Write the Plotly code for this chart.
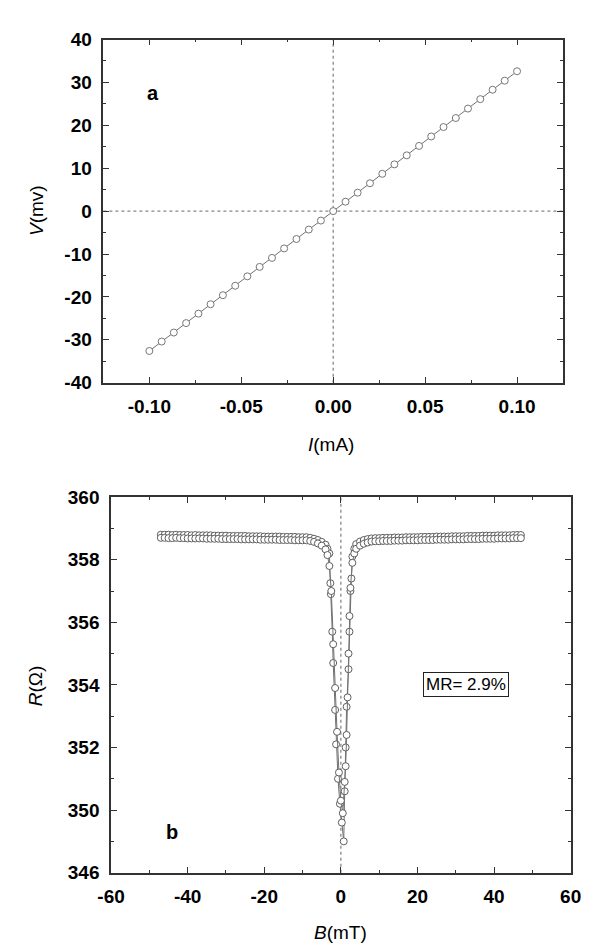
import plotly.graph_objects as go

# ---------------- data: panel a (I-V) ----------------
I_mA = [-0.1, -0.0933, -0.0867, -0.08, -0.0733, -0.0667, -0.06, -0.0533, -0.0467, -0.04,
        -0.0333, -0.0267, -0.02, -0.0133, -0.0067, 0.0, 0.0067, 0.0133, 0.02, 0.0267,
        0.0333, 0.04, 0.0467, 0.0533, 0.06, 0.0667, 0.0733, 0.08, 0.0867, 0.0933, 0.1]
V_mV = [-32.6, -30.4, -28.3, -26.1, -23.9, -21.7, -19.6, -17.4, -15.2, -13.0,
        -10.9, -8.7, -6.5, -4.3, -2.2, 0.0, 2.2, 4.3, 6.5, 8.7,
        10.9, 13.0, 15.2, 17.4, 19.6, 21.7, 23.9, 26.1, 28.3, 30.4, 32.6]

# ---------------- data: panel b (R-B), two sweeps ----------------
B_sweep1 = [-47, -46, -45, -44, -43, -42, -41, -40, -39, -38,
            -37, -36, -35, -34, -33, -32, -31, -30, -29, -28,
            -27, -26, -25, -24, -23, -22, -21, -20, -19, -18,
            -17, -16, -15, -14, -13, -12, -11, -10, -9,
            -8, -7, -6, -5, -4,
            -3.5, -3, -2.75, -2.6, -2.25, -2, -1.5, -1.25, -0.75, -0.25,
            0.25, 0.75, 1, 1.25, 1.5, 2, 2.25, 2.5, 2.75, 3, 3.5,
            4, 5, 6, 7, 8,
            9, 10, 11, 12, 13, 14, 15, 16, 17, 18,
            19, 20, 21, 22, 23, 24, 25, 26, 27, 28,
            29, 30, 31, 32, 33, 34, 35, 36, 37, 38,
            39, 40, 41, 42, 43, 44, 45, 46, 47]
R_sweep1 = [358.80, 358.80, 358.80, 358.79, 358.80, 358.79, 358.79, 358.79, 358.78, 358.79,
            358.78, 358.78, 358.78, 358.78, 358.77, 358.77, 358.77, 358.77, 358.76, 358.76,
            358.76, 358.76, 358.76, 358.75, 358.75, 358.75, 358.75, 358.74, 358.74, 358.74,
            358.74, 358.74, 358.73, 358.73, 358.73, 358.73, 358.72, 358.72, 358.72,
            358.70, 358.67, 358.63, 358.57, 358.48,
            358.35, 358.2, 357.25, 356.9, 355.7, 354.7, 353.2, 352.1, 351.0, 350.2,
            349.6, 349.0, 350.6, 352.0, 353.3, 354.5, 355.7, 357.0, 357.4, 358.1, 358.35,
            358.5, 358.58, 358.63, 358.66, 358.68,
            358.69, 358.69, 358.7, 358.7, 358.7, 358.71, 358.71, 358.71, 358.72, 358.72,
            358.72, 358.72, 358.73, 358.73, 358.73, 358.73, 358.74, 358.74, 358.74, 358.74,
            358.75, 358.75, 358.75, 358.75, 358.76, 358.76, 358.76, 358.76, 358.77, 358.77,
            358.77, 358.77, 358.78, 358.78, 358.78, 358.78, 358.79, 358.79, 358.79]

B_sweep2 = [-47, -46, -45, -44, -43, -42, -41, -40, -39, -38,
            -37, -36, -35, -34, -33, -32, -31, -30, -29, -28,
            -27, -26, -25, -24, -23, -22, -21, -20, -19, -18,
            -17, -16, -15, -14, -13, -12, -11, -10, -9,
            -8, -7, -6, -5, -4,
            -3.5, -3, -2.5, -2, -1.5, -1, -0.5, 0, 0.5,
            1, 1.25, 1.5, 1.75, 2, 2.25, 2.5, 3, 3.5,
            4, 5, 6, 7, 8,
            9, 10, 11, 12, 13, 14, 15, 16, 17, 18,
            19, 20, 21, 22, 23, 24, 25, 26, 27, 28,
            29, 30, 31, 32, 33, 34, 35, 36, 37, 38,
            39, 40, 41, 42, 43, 44, 45, 46, 47]
R_sweep2 = [358.70, 358.70, 358.69, 358.69, 358.70, 358.69, 358.69, 358.68, 358.68, 358.68,
            358.68, 358.68, 358.67, 358.67, 358.67, 358.67, 358.66, 358.66, 358.66, 358.66,
            358.66, 358.65, 358.65, 358.65, 358.65, 358.65, 358.64, 358.64, 358.64, 358.64,
            358.64, 358.63, 358.63, 358.63, 358.63, 358.62, 358.62, 358.62, 358.62,
            358.6, 358.57, 358.52, 358.45, 358.33,
            358.15, 357.8, 357.0, 355.3, 353.9, 352.5, 351.2, 350.3, 349.9,
            350.9, 351.4, 352.4, 353.6, 355.0, 356.2, 357.1, 357.9, 358.2,
            358.35, 358.45, 358.51, 358.55, 358.58,
            358.59, 358.59, 358.6, 358.6, 358.6, 358.61, 358.61, 358.61, 358.62, 358.62,
            358.62, 358.62, 358.63, 358.63, 358.63, 358.63, 358.64, 358.64, 358.64, 358.64,
            358.65, 358.65, 358.65, 358.65, 358.66, 358.66, 358.66, 358.66, 358.67, 358.67,
            358.67, 358.67, 358.68, 358.68, 358.68, 358.68, 358.69, 358.69, 358.69]

# ---------------- tick labels ----------------
a_x_tickvals = [-0.1, -0.05, 0.0, 0.05, 0.1]
a_x_ticktext = ["-0.10", "-0.05", "0.00", "0.05", "0.10"]
a_y_tickvals = [-40, -30, -20, -10, 0, 10, 20, 30, 40]
a_y_ticktext = ["-40", "-30", "-20", "-10", "0", "10", "20", "30", "40"]
b_x_tickvals = [-60, -40, -20, 0, 20, 40, 60]
b_x_ticktext = ["-60", "-40", "-20", "0", "20", "40", "60"]
b_y_tickvals = [348, 350, 352, 354, 356, 358, 360]
b_y_ticktext = ["346", "350", "352", "354", "356", "358", "360"]

W, H = 589, 948
FONT = "Liberation Sans"
TICKFONT = dict(family=FONT, size=19, color="black", weight="bold")

mk_a = dict(symbol="circle", size=7, color="white", line=dict(color="#777777", width=1))
mk_b = dict(symbol="circle", size=7, color="white", line=dict(color="#5f5f5f", width=1))
ln = dict(color="#707070", width=1)

fig = go.Figure()
fig.add_trace(go.Scatter(x=I_mA, y=V_mV, mode="lines+markers", marker=mk_a, line=ln,
                         xaxis="x", yaxis="y", showlegend=False))
fig.add_trace(go.Scatter(x=B_sweep1, y=R_sweep1, mode="lines+markers", marker=mk_b, line=ln,
                         xaxis="x2", yaxis="y2", showlegend=False))
fig.add_trace(go.Scatter(x=B_sweep2, y=R_sweep2, mode="lines+markers", marker=mk_b, line=ln,
                         xaxis="x2", yaxis="y2", showlegend=False))

axis_common = dict(showgrid=False, zeroline=False, showline=True, linecolor="#333333",
                   linewidth=1.5, mirror="ticks", ticks="inside", ticklen=6, tickwidth=1.2,
                   tickcolor="#333333", tickfont=TICKFONT, ticklabelstandoff=6)

fig.update_layout(
    width=W, height=H, margin=dict(l=0, r=0, t=0, b=0),
    paper_bgcolor="white", plot_bgcolor="white",
    xaxis=dict(axis_common, domain=[85 / W, 565 / W], range=[-0.125, 0.125],
               tickvals=a_x_tickvals, ticktext=a_x_ticktext, anchor="y",
               minor=dict(ticks="inside", ticklen=3, dtick=0.025, tickcolor="#333333")),
    yaxis=dict(axis_common, domain=[1 - 373 / H, 1 - 22 / H], range=[-40, 40],
               tickvals=a_y_tickvals, ticktext=a_y_ticktext, anchor="x",
               minor=dict(ticks="inside", ticklen=3, dtick=5, tickcolor="#333333")),
    xaxis2=dict(axis_common, domain=[93 / W, 573 / W], range=[-60, 60],
                tickvals=b_x_tickvals, ticktext=b_x_ticktext, anchor="y2",
                minor=dict(ticks="inside", ticklen=3, dtick=10, tickcolor="#333333")),
    yaxis2=dict(axis_common, domain=[1 - 874 / H, 1 - 490 / H], range=[348, 360],
                tickvals=b_y_tickvals, ticktext=b_y_ticktext, anchor="x2",
                minor=dict(ticks="inside", ticklen=3, dtick=1, tickcolor="#333333")),
)

# dotted reference lines at zero
dot = dict(color="#888888", width=1.3, dash="dot")
fig.add_shape(type="line", xref="x", yref="paper", x0=0, x1=0,
              y0=1 - 373 / H, y1=1 - 22 / H, line=dot, layer="below")
fig.add_shape(type="line", xref="paper", yref="y", x0=85 / W, x1=565 / W,
              y0=0, y1=0, line=dot, layer="below")
fig.add_shape(type="line", xref="x2", yref="paper", x0=0, x1=0,
              y0=1 - 874 / H, y1=1 - 490 / H, line=dot, layer="below")

TF = dict(family=FONT, size=19, color="black")
ann = [
    dict(text="<i>V</i>(mv)", x=15 / W, y=1 - 197 / H, textangle=-90),
    dict(text="<i>I</i>(mA)", x=323 / W, y=1 - 436 / H),
    dict(text="<i>R</i>(Ω)", x=15 / W, y=1 - 683 / H, textangle=-90),
    dict(text="<i>B</i>(mT)", x=333 / W, y=1 - 935 / H),
]
for a in ann:
    fig.add_annotation(xref="paper", yref="paper", showarrow=False, font=TF,
                       xanchor="center", yanchor="middle", **a)

fig.add_annotation(xref="x", yref="y", x=-0.098, y=27.5, text="a", showarrow=False,
                   font=dict(family=FONT, size=20, color="black", weight="bold"))
fig.add_annotation(xref="x2", yref="y2", x=-44, y=349.3, text="b", showarrow=False,
                   font=dict(family=FONT, size=20, color="black", weight="bold"))
fig.add_annotation(xref="x2", yref="y2", x=32.75, y=354.0, text="MR= 2.9%", showarrow=False,
                   font=dict(family=FONT, size=17, color="black"),
                   bordercolor="#222222", borderwidth=1, borderpad=2, bgcolor="white")

fig.write_html("out.html")
